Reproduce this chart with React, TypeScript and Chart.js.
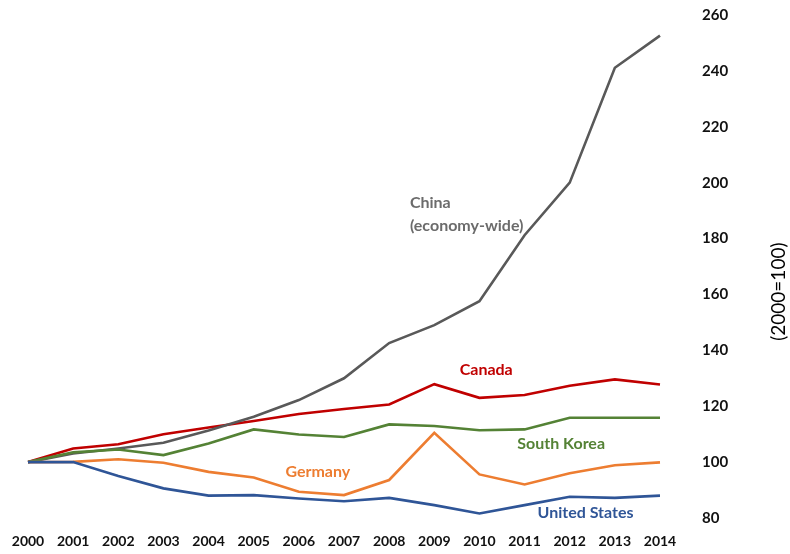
import React, { useEffect, useRef } from "react";
import { Chart, registerables } from "chart.js";

Chart.register(...registerables);

const years = ["2000","2001","2002","2003","2004","2005","2006","2007","2008","2009","2010","2011","2012","2013","2014"];
const china = [100, 103.1, 104.9, 106.9, 111.3, 116.2, 122.2, 130, 142.6, 149, 157.6, 181.2, 200, 241.1, 252.6];
const canada = [100, 104.9, 106.4, 110, 112.4, 114.7, 117.2, 119, 120.6, 127.9, 123, 124, 127.3, 129.6, 127.8];
const southKorea = [100, 103.5, 104.5, 102.5, 106.7, 111.7, 109.9, 109, 113.5, 112.9, 111.4, 111.7, 115.9, 115.9, 115.9];
const germany = [100, 100.1, 101, 99.8, 96.5, 94.5, 89.4, 88.2, 93.6, 110.5, 95.6, 92, 96, 98.9, 99.9];
const unitedStates = [100, 100, 95, 90.6, 88, 88.2, 87, 86, 87.2, 84.6, 81.6, 84.6, 87.6, 87.2, 88];
const yTicks = [80, 100, 120, 140, 160, 180, 200, 220, 240, 260];

const COLORS = {
  china: "#595959",
  canada: "#C00000",
  korea: "#548235",
  germany: "#ED7D31",
  us: "#2F5597",
};

type Note = { lines: string[]; x: number; y: number; color: string; align: CanvasTextAlign };
const notes: Note[] = [
  { lines: ["China", "(economy-wide)"], x: 8.46, y: 192.7, color: "#6b6b6b", align: "left" },
  { lines: ["Canada"], x: 10.15, y: 132.9, color: COLORS.canada, align: "center" },
  { lines: ["South Korea"], x: 11.81, y: 106.4, color: COLORS.korea, align: "center" },
  { lines: ["Germany"], x: 6.42, y: 96.4, color: COLORS.germany, align: "center" },
  { lines: ["United States"], x: 12.35, y: 81.8, color: COLORS.us, align: "center" },
];

const FONT = "Lato, 'Liberation Sans', sans-serif";

const notesPlugin = {
  id: "notes",
  afterDatasetsDraw(chart: any) {
    const { ctx, scales } = chart;
    const xs = scales.x;
    const ys = scales.y;
    ctx.save();
    notes.forEach((n) => {
      ctx.font = `bold 16px ${FONT}`;
      ctx.fillStyle = n.color;
      ctx.textAlign = n.align;
      ctx.textBaseline = "middle";
      const px = xs.getPixelForValue(n.x);
      const py = ys.getPixelForValue(n.y);
      n.lines.forEach((line, i) => ctx.fillText(line, px, py + i * 23));
    });
    // rotated axis title, reading bottom-to-top
    const tx = 779;
    const ty = ys.getPixelForValue(161);
    ctx.translate(tx, ty);
    ctx.rotate(-Math.PI / 2);
    ctx.font = `19px ${FONT}`;
    ctx.fillStyle = "#000";
    ctx.textAlign = "center";
    ctx.textBaseline = "middle";
    ctx.fillText("(2000=100)", 0, 0);
    ctx.restore();
  },
};

export default function App() {
  const ref = useRef<HTMLCanvasElement | null>(null);
  useEffect(() => {
    if (!ref.current) return;
    const mk = (label: string, data: number[], color: string) => ({
      label,
      data,
      borderColor: color,
      backgroundColor: color,
      borderWidth: 2.6,
      pointRadius: 0,
      tension: 0,
      fill: false,
    });
    const chart = new Chart(ref.current, {
      type: "line",
      data: {
        labels: years,
        datasets: [
          mk("United States", unitedStates, COLORS.us),
          mk("Germany", germany, COLORS.germany),
          mk("South Korea", southKorea, COLORS.korea),
          mk("China (economy-wide)", china, COLORS.china),
          mk("Canada", canada, COLORS.canada),
        ],
      },
      options: {
        responsive: false,
        animation: false,
        layout: { autoPadding: false, padding: { left: 28, top: 15, right: 0, bottom: 0 } },
        plugins: { legend: { display: false }, tooltip: { enabled: false } },
        scales: {
          x: {
            type: "category",
            offset: false,
            grid: { display: false, drawTicks: false },
            border: { display: false },
            ticks: {
              autoSkip: false,
              maxRotation: 0,
              padding: 15,
              color: "#111",
              font: { family: FONT, size: 14, weight: "bold" },
            },
            afterFit: (s: any) => {
              s.height = 36;
              s.paddingLeft = 0;
              s.paddingRight = 0;
            },
          },
          y: {
            position: "right",
            min: 80,
            max: 260,
            grid: { display: false, drawTicks: false },
            border: { display: false },
            afterBuildTicks: (s: any) => { s.ticks = yTicks.map((v) => ({ value: v })); },
            ticks: {
              padding: 42,
              color: "#111",
              font: { family: FONT, size: 15, weight: "bold" },
            },
            afterFit: (s: any) => {
              s.width = 130;
              s.paddingTop = 0;
              s.paddingBottom = 0;
            },
          },
        },
      },
      plugins: [notesPlugin],
    });
    return () => chart.destroy();
  }, []);
  return (
    <div style={{ position: "absolute", left: 0, top: 0, width: 790, height: 554, background: "#fff" }}>
      <canvas ref={ref} width={790} height={554} />
    </div>
  );
}
